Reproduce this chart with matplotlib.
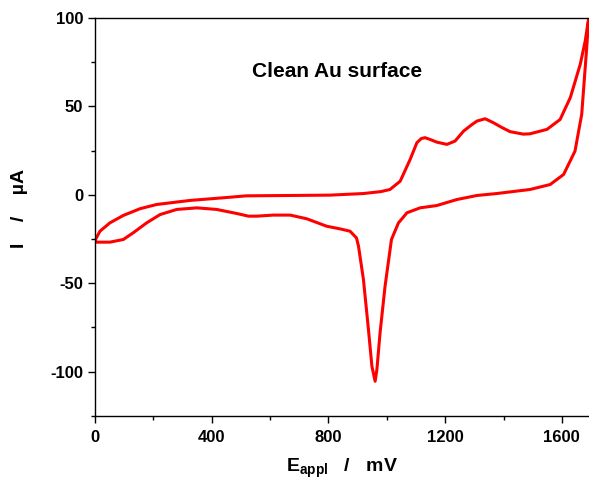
import numpy as np
import matplotlib
matplotlib.use("Agg")
import matplotlib.pyplot as plt
from matplotlib.ticker import MultipleLocator

plt.rcParams['font.family'] = ['Liberation Sans', 'DejaVu Sans']
plt.rcParams['mathtext.fontset'] = 'custom'
plt.rcParams['mathtext.rm'] = 'Liberation Sans:bold'
plt.rcParams['mathtext.bf'] = 'Liberation Sans:bold'
plt.rcParams['axes.unicode_minus'] = False

# anodic (forward) scan, 0 -> 1690 mV
e_fwd = [0, 17, 51, 97, 154, 211, 326, 440, 519, 669, 806, 920, 980, 1011, 1046, 1080, 1103,
         1118, 1131, 1150, 1171, 1206, 1234, 1263, 1290, 1309, 1337, 1365, 1395, 1423,
         1468, 1491, 1549, 1594, 1629, 1663, 1680, 1692]
i_fwd = [-25.8, -20.6, -15.9, -11.7, -7.9, -5.5, -3.2, -1.7, -0.6, -0.4, -0.2, 0.7, 1.8, 3, 7.7, 20, 29.4,
         31.8, 32.3, 31.2, 29.8, 28.5, 30.4, 36, 39.5, 41.7, 43, 40.8, 38, 35.7,
         34.3, 34.5, 37, 42.6, 55, 73.8, 87, 100]
# cathodic (reverse) scan, 1690 -> 0 mV
e_rev = [1692, 1685, 1668, 1645, 1606, 1560, 1491, 1377, 1309, 1240, 1171,
         1114, 1069, 1040, 1016, 994, 977, 966, 960, 949, 937, 920, 903, 896, 874,
         840, 794, 726, 669, 611, 554, 526, 486, 417, 349, 280, 223, 177, 131, 97, 51, 0]
i_rev = [100, 83, 45.5, 24.7, 11.5, 5.8, 3, 0.7, -0.4, -2.7, -6.1,
         -7.4, -10.2, -15.9, -25.3, -51.8, -78, -99, -105.5, -97, -76, -48, -29, -24.4, -20.6,
         -19.3, -17.8, -13.6, -11.5, -11.5, -12.1, -12.1, -10.6, -8.3, -7.4, -8.3, -11.2, -15.9, -21.5, -25.3, -26.8, -26.8]

fig = plt.figure(figsize=(5.89, 4.83), dpi=100)
ax = fig.add_axes([0.1613, 0.1393, 0.8387, 0.8234])

ax.plot(e_fwd + e_rev, i_fwd + i_rev, color='#ff0000', lw=2.2,
        solid_joinstyle='round', solid_capstyle='round')

ax.set_xlim(0, 1693)
ax.set_ylim(-125, 100)
ax.xaxis.set_major_locator(MultipleLocator(400))
ax.xaxis.set_minor_locator(MultipleLocator(200))
ax.yaxis.set_major_locator(MultipleLocator(50))
ax.yaxis.set_minor_locator(MultipleLocator(25))
ax.tick_params(which='major', direction='out', length=5, width=1, labelsize=12)
ax.tick_params(axis='x', which='major', pad=5)
ax.tick_params(which='minor', direction='out', length=3, width=1)
for lab in ax.get_xticklabels() + ax.get_yticklabels():
    lab.set_fontweight('bold')
ax.spines['right'].set_visible(False)
for s in ['left', 'bottom', 'top']:
    ax.spines[s].set_linewidth(1.0)

ax.set_xlabel(r'$\mathbf{E_{appl}}$   /   mV', fontsize=14, fontweight='bold')
ax.set_ylabel('I    /    µA', fontsize=14, fontweight='bold')
ax.xaxis.set_label_coords(0.5, -0.103)
ax.yaxis.set_label_coords(-0.136, 0.522)

ax.text(830, 70, 'Clean Au surface', fontsize=15, fontweight='bold',
        ha='center', va='center')

fig.savefig('out.png', dpi=100)
